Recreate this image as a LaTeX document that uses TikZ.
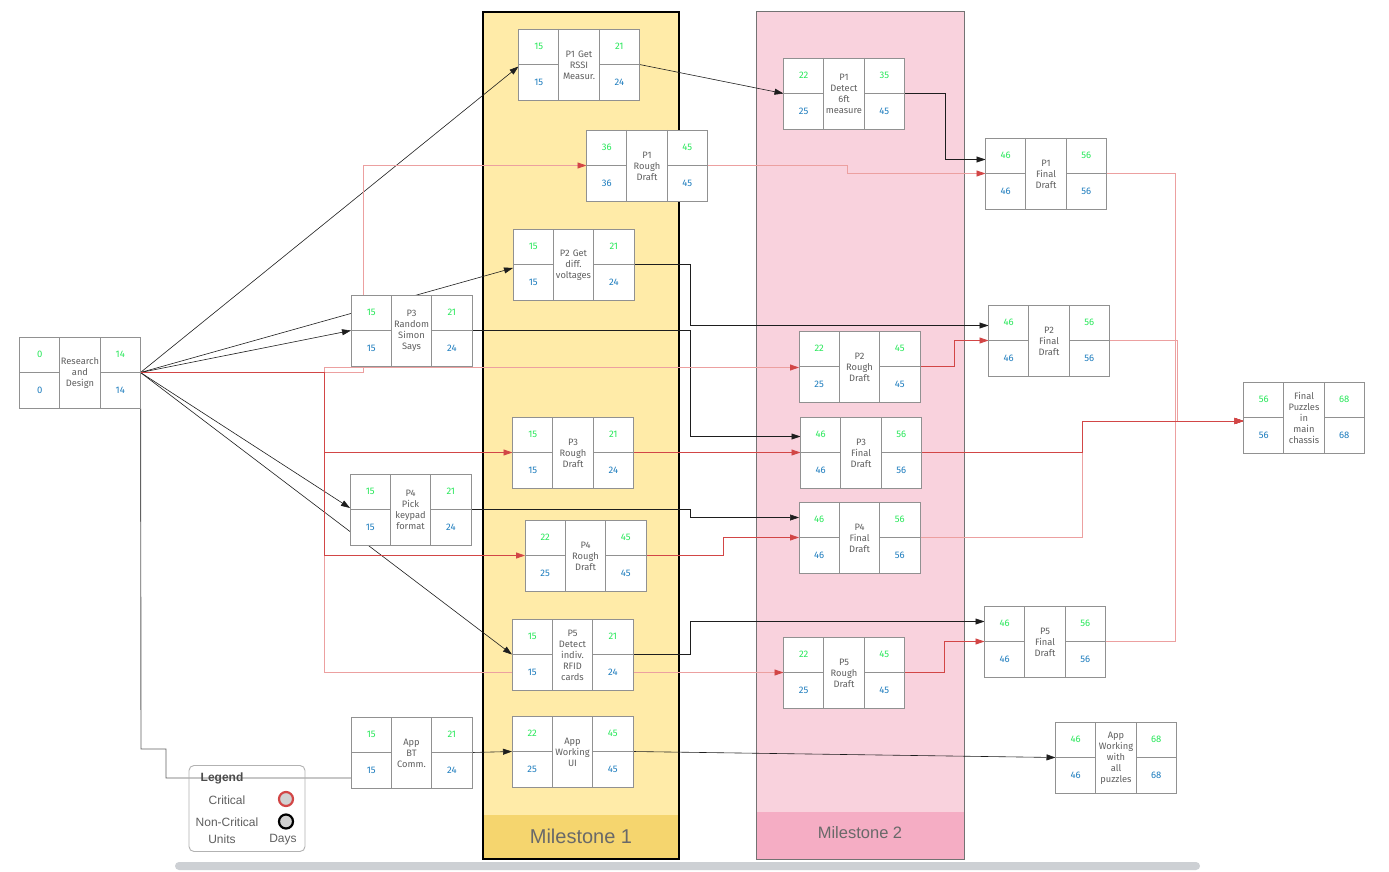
\documentclass[tikz,border=0pt]{standalone}
\usepackage{fontspec}
\setmainfont{Fira Sans}
\newfontfamily\libsans{Liberation Sans}
\usetikzlibrary{arrows.meta}

\definecolor{gridc}{RGB}{145,145,145}
\definecolor{esc}{RGB}{40,232,90}
\definecolor{lsc}{RGB}{30,125,190}
\definecolor{txtc}{RGB}{95,95,95}
\definecolor{crit}{RGB}{210,70,70}
\definecolor{critf}{RGB}{236,160,160}
\definecolor{ncc}{RGB}{30,30,30}
\definecolor{msa}{RGB}{255,235,168}
\definecolor{msab}{RGB}{245,213,110}
\definecolor{msb}{RGB}{249,210,221}
\definecolor{msbb}{RGB}{245,173,196}
\definecolor{mstext}{RGB}{105,105,105}
\definecolor{scrollc}{RGB}{205,208,212}

\tikzset{
  tbox/.style={draw=gridc, line width=0.9pt, fill=white, minimum width=121pt, minimum height=71pt, inner sep=0pt, outer sep=0pt},
  tphantom/.style={minimum width=121pt, minimum height=71pt, inner sep=0pt, outer sep=0pt},
  tline/.style={draw=gridc, line width=0.9pt},
  esnum/.style={text=esc, font=\fontsize{9.5}{11}\selectfont, inner sep=0pt},
  lsnum/.style={text=lsc, font=\fontsize{9.5}{11}\selectfont, inner sep=0pt},
  ttext/.style={text=txtc, align=center, font=\fontsize{9.3}{11}\selectfont, text width=44pt, inner sep=0pt},
  nc/.style={draw=ncc, line width=0.6pt, -{Triangle[length=9pt,width=6pt]}},
  ncplain/.style={draw=ncc!70, line width=0.9pt},
  cr/.style={draw=crit, line width=0.8pt, -{Triangle[length=9pt,width=6pt,color=crit]}},
  crf/.style={draw=critf, line width=0.8pt, -{Triangle[length=9pt,width=6pt,color=crit]}},
  crtrunk/.style={draw=crit, line width=1pt},
  legtext/.style={text=txtc, font=\libsans\fontsize{12}{14}\selectfont, inner sep=0pt},
}

% name, cx, cy, ES, LS, EF, LF, text
\newcommand{\tnode}[8]{%
  \node[tbox] (#1) at (#2,#3) {};
  \draw[tline] ({#2-20.2},{#3-35.5}) -- ({#2-20.2},{#3+35.5});
  \draw[tline] ({#2+20.2},{#3-35.5}) -- ({#2+20.2},{#3+35.5});
  \draw[tline] ({#2-60.5},#3) -- ({#2-20.2},#3);
  \draw[tline] ({#2+20.2},#3) -- ({#2+60.5},#3);
  \node[esnum] (#1-es) at ({#2-40.3},{#3-17.75}) {#4};
  \node[lsnum] (#1-ls) at ({#2-40.3},{#3+17.75}) {#5};
  \node[esnum] (#1-ef) at ({#2+40.3},{#3-17.75}) {#6};
  \node[lsnum] (#1-lf) at ({#2+40.3},{#3+17.75}) {#7};
  \node[ttext] (#1-t) at (#2,{#3+0.5}) {#8};
}

\begin{document}
\begin{tikzpicture}[x=1pt,y=-1pt]
\fill[white] (0,0) rectangle (1389,872);
\useasboundingbox (0,0) rectangle (1389,872);

% milestone columns
\fill[msa] (483,12) rectangle (679,859);
\fill[msab] (483,815) rectangle (679,859);
\draw[black, line width=1.1pt] (483,12) rectangle (679,859);
\node[font=\libsans\fontsize{20}{24}\selectfont, text=mstext] (msonelab) at (581,836) {Milestone 1};
\fill[msb] (756,12) rectangle (964,859);
\fill[msbb] (756,812) rectangle (964,859);
\draw[black!55, line width=1pt] (756,12) rectangle (964,859);
\node[font=\libsans\fontsize{16.5}{20}\selectfont, text=mstext] (mstwolab) at (860,833) {Milestone 2};

% scroll bar
\fill[scrollc, rounded corners=4pt] (175,862) rectangle (1200,870);

% phantom pass: names of the task boxes, so connectors can use them
\foreach \n/\x/\y in {rd/80/372.5, rssi/579/64.5, pA/647/165.5, ptwov/573.5/264.5, pthreer/411.5/330.5,
  pthreerd/573/452.5, pfourp/410.5/509.5, pfourrd/585.5/555.5, pfived/572.5/654.5, appbt/411.5/752.5,
  appui/572.5/751.5, det/844/93.5, ptwor/859.5/366.5, pthreef/861/452.5, pfourf/859.5/537.5,
  pfiverd/844/672.5, ponef/1046/173.5, ptwof/1049/340.5, pfivef/1045/641.5, chassis/1304/417.5,
  appall/1116/757.5}
  {\node[tphantom] (\n) at (\x,\y) {};}

% non-critical
\draw[nc] (rd.east) -- ([yshift=-2pt]rssi.west);
\draw[nc] (rd.east) -- ([yshift=-3.5pt]ptwov.west);
\draw[nc] (rd.east) -- (pthreer.west);
\draw[nc] (rd.east) -- ([yshift=1.5pt]pfourp.west);
\draw[nc] (rd.east) -- (pfived.west);
\draw[ncplain] (rd.east) -- (141,749) -- (166,749) -- (166,778) -- ([yshift=-25.5pt]appbt.west);
\draw[nc] (appbt.east) -- (appui.west);
\draw[nc] (appui.east) -- (appall.west);
\draw[nc] (rssi.east) -- (det.west);
\draw[nc] (det.east) -- (945,93.5) |- ([yshift=14pt]ponef.west);
\draw[nc] (ptwov.east) -- (690,264.5) |- ([yshift=15pt]ptwof.west);
\draw[nc] (pthreer.east) -- (690,330.5) |- ([yshift=16pt]pthreef.west);
\draw[nc] (pfourp.east) -- (690,509.5) |- ([yshift=20pt]pfourf.west);
\draw[nc] (pfived.east) -- (690,654.5) |- ([yshift=20pt]pfivef.west);

% critical
\draw[crf] (rd.east) -- (363,372.5) -- (363,165.5) -- (pA.west);
\draw[crf] (324,372.5) -- (324,367.5) -- ([yshift=-1pt]ptwor.west);
\draw[crf] (324,555.5) -- (324,672.5) -- (pfiverd.west);
\draw[crtrunk] (rd.east) -- (324,372.5) -- (324,555.5);
\draw[cr] (324,452.5) -- (pthreerd.west);
\draw[cr] (324,555.5) -- (pfourrd.west);
\draw[crf] (pA.east) -- (847,165.5) |- (ponef.west);
\draw[cr] (ptwor.east) -- (954,366.5) |- (ptwof.west);
\draw[cr] (pthreerd.east) -- (pthreef.west);
\draw[cr] (pfourrd.east) -- (723,555.5) |- (pfourf.west);
\draw[cr] (pfiverd.east) -- (944,672.5) |- (pfivef.west);
\draw[crf] (ponef.east) -- (1175,173.5) |- ([yshift=-3.5pt]chassis.west);
\draw[crf] (ptwof.east) -- (1177,340.5) |- ([yshift=-3.5pt]chassis.west);
\draw[crf] (pfivef.east) -- (1175,641.5) |- ([yshift=-3.5pt]chassis.west);
\draw[crf] (pfourf.east) -- (1082,537.5) |- ([yshift=-3.5pt]chassis.west);
\draw[cr] (pthreef.east) -- (1082,452.5) |- ([yshift=-3.5pt]chassis.west);

% task nodes
\tnode{rd}{80}{372.5}{0}{0}{14}{14}{Research\\and\\Design}
\tnode{rssi}{579}{64.5}{15}{15}{21}{24}{P1 Get\\RSSI\\Measur.}
\tnode{pA}{647}{165.5}{36}{36}{45}{45}{P1\\Rough\\Draft}
\tnode{ptwov}{573.5}{264.5}{15}{15}{21}{24}{P2 Get\\diff.\\voltages}
\tnode{pthreer}{411.5}{330.5}{15}{15}{21}{24}{P3\\Random\\Simon\\Says}
\tnode{pthreerd}{573}{452.5}{15}{15}{21}{24}{P3\\Rough\\Draft}
\tnode{pfourp}{410.5}{509.5}{15}{15}{21}{24}{P4\\Pick\\keypad\\format}
\tnode{pfourrd}{585.5}{555.5}{22}{25}{45}{45}{P4\\Rough\\Draft}
\tnode{pfived}{572.5}{654.5}{15}{15}{21}{24}{P5\\Detect\\indiv.\\RFID\\cards}
\tnode{appbt}{411.5}{752.5}{15}{15}{21}{24}{App\\BT\\Comm.}
\tnode{appui}{572.5}{751.5}{22}{25}{45}{45}{App\\Working\\UI}
\tnode{det}{844}{93.5}{22}{25}{35}{45}{P1\\Detect\\6ft\\measure}
\tnode{ptwor}{859.5}{366.5}{22}{25}{45}{45}{P2\\Rough\\Draft}
\tnode{pthreef}{861}{452.5}{46}{46}{56}{56}{P3\\Final\\Draft}
\tnode{pfourf}{859.5}{537.5}{46}{46}{56}{56}{P4\\Final\\Draft}
\tnode{pfiverd}{844}{672.5}{22}{25}{45}{45}{P5\\Rough\\Draft}
\tnode{ponef}{1046}{173.5}{46}{46}{56}{56}{P1\\Final\\Draft}
\tnode{ptwof}{1049}{340.5}{46}{46}{56}{56}{P2\\Final\\Draft}
\tnode{pfivef}{1045}{641.5}{46}{46}{56}{56}{P5\\Final\\Draft}
\tnode{chassis}{1304}{417.5}{56}{56}{68}{68}{Final\\Puzzles\\in\\main\\chassis}
\tnode{appall}{1116}{757.5}{46}{46}{68}{68}{App\\Working\\with\\all\\puzzles}

% legend
\node[draw=black!30, line width=0.9pt, rounded corners=5pt, minimum width=116pt, minimum height=86pt, inner sep=0pt] (legend) at (247,808.5) {};
\node[legtext, font=\libsans\bfseries\fontsize{12}{14}\selectfont, text=black!70] (leghead) at (222,778) {Legend};
\node[legtext] (legcrit) at (227,800) {Critical};
\node[legtext] (legnon) at (227,822) {Non-Critical};
\node[legtext] (legunits) at (222,839.5) {Units};
\node[legtext] (legdays) at (283,839.5) {Days};
\node[circle, draw=crit, line width=2.2pt, fill=black!18, minimum size=14pt, inner sep=0pt] (legred) at (286,799) {};
\node[circle, draw=black, line width=2.2pt, fill=black!18, minimum size=14pt, inner sep=0pt] (legblack) at (286,821.5) {};
\end{tikzpicture}
\end{document}
